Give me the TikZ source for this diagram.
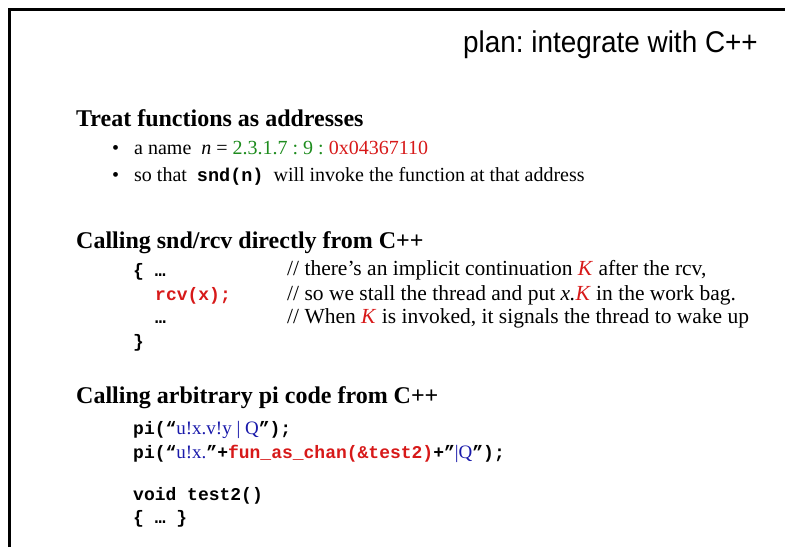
\documentclass[tikz,border=0pt]{standalone}
\usepackage{fontspec}
\usepackage{graphicx}
\setmainfont{Liberation Serif}
\setmonofont{Liberation Mono}
\newfontfamily\titlefont{Liberation Sans}
\frenchspacing
\definecolor{namegreen}{RGB}{30,140,30}
\definecolor{hotred}{RGB}{215,25,25}
\definecolor{piblue}{RGB}{25,25,170}
\newcommand{\cd}[1]{{\ttfamily\bfseries\fontsize{18.5}{22}\selectfont #1}}
\newcommand{\pitxt}[1]{{\rmfamily\mdseries\fontsize{19}{22}\selectfont\textcolor{piblue}{#1}}}

\begin{document}
\begin{tikzpicture}[x=1pt, y=-1pt, inner sep=0pt,
    heading/.style={anchor=base west, font=\fontsize{24}{28}\selectfont\bfseries},
    bullettext/.style={anchor=base west, font=\fontsize{20}{24}\selectfont},
    codeline/.style={anchor=base west, font=\fontsize{18}{22}\selectfont\ttfamily\bfseries},
    remark/.style={anchor=base west, font=\fontsize{21.5}{24}\selectfont}]
  \useasboundingbox (0,0) rectangle (785,547);
  % slide frame, open at the right and bottom
  \draw[line width=3pt] (9.5,547) -- (9.5,9.5) -- (785,9.5);
  \node[anchor=base east, font=\titlefont\fontsize{30}{34}\selectfont] (title) at (758,52)
    {\scalebox{0.93}[1]{plan: integrate with C++}};

  % first block: names as addresses
  \node[heading] (headaddr) at (76,126) {Treat functions as addresses};
  \node[bullettext] (dotname) at (112,154) {•};
  \node[bullettext] (itemname) at (134,154)
    {a name \ \textit{n} = \textcolor{namegreen}{2.3.1.7 : 9 :} \textcolor{hotred}{0x04367110}};
  \node[bullettext] (dotsnd) at (112,181) {•};
  \node[bullettext] (itemsnd) at (134,181)
    {so that \ \cd{snd(n)} \ will invoke the function at that address};

  % second block: snd/rcv straight from C++
  \node[heading] (headrcv) at (76,248) {Calling snd/rcv directly from C++};
  \node[codeline] (rcvopen) at (133,276) {\{ …};
  \node[codeline, text=hotred] (rcvcall) at (155,300) {rcv(x);};
  \node[codeline] (rcvdots) at (155,323) {…};
  \node[codeline] (rcvclose) at (133,347) {\}};
  \node[remark] (remarkone) at (287,275)
    {// there’s an implicit continuation \textcolor{hotred}{\textit{K}} after the rcv,};
  \node[remark] (remarktwo) at (287,300)
    {// so we stall the thread and put \textit{x.}\textcolor{hotred}{\textit{K}} in the work bag.};
  \node[remark] (remarkthree) at (287,323)
    {// When \textcolor{hotred}{\textit{K}} is invoked, it signals the thread to wake up};

  % third block: pi code called from C++
  \node[heading] (headpi) at (76,403) {Calling arbitrary pi code from C++};
  \node[codeline] (picallone) at (133,434)
    {pi(“\pitxt{u!x.v!y | Q}”);};
  \node[codeline] (picalltwo) at (133,458)
    {pi(“\pitxt{u!x.}”+\textcolor{hotred}{fun\_as\_chan(\&test2)}+”\pitxt{|Q}”);};
  \node[codeline] (funhead) at (133,500) {void test2()};
  \node[codeline] (funbody) at (133,523) {\{ … \}};
\end{tikzpicture}
\end{document}
